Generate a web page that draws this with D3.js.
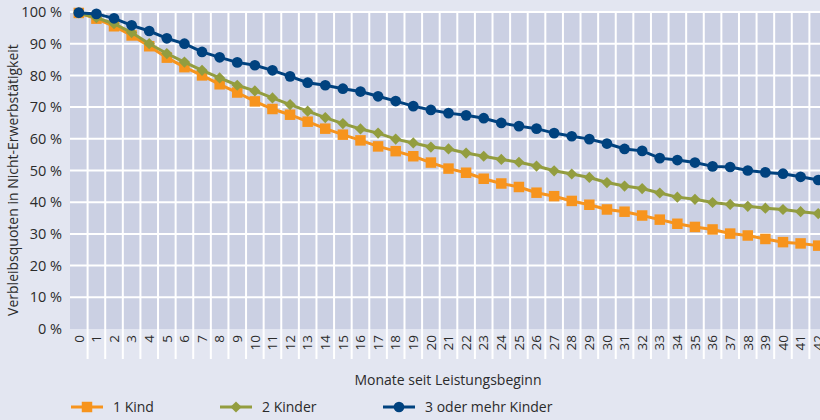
<!DOCTYPE html>
<html>
<head>
<meta charset="utf-8">
<script src="https://cdn.jsdelivr.net/npm/d3@7"></script>
<style>
  body { margin: 0; background: #e3e6f1; }
  svg { display: block; font-family: "Open Sans", sans-serif; }
</style>
</head>
<body>
<div class="canvas"></div>
<script>
// months since start of benefit
const months = d3.range(0, 43)
const yTicks = [0, 10, 20, 30, 40, 50, 60, 70, 80, 90, 100]

const seriesNames = ['1 Kind', '2 Kinder', '3 oder mehr Kinder']

const kind1 = [99.7, 97.9, 95.5, 92.6, 89.2, 85.6, 82.6, 80.0, 77.2, 74.6, 71.8, 69.4, 67.6, 65.4, 63.2,
    61.3, 59.5, 57.6, 56.1, 54.5, 52.5, 50.6, 49.3, 47.4, 45.9, 44.8, 43.0, 41.9, 40.4, 39.2,
    37.7, 37.0, 35.8, 34.5, 33.2, 32.2, 31.4, 30.1, 29.5, 28.4, 27.4, 27.0, 26.3]

const kinder2 = [99.7, 98.2, 96.3, 93.5, 90.0, 86.9, 84.2, 81.6, 79.2, 76.9, 75.1, 72.9, 70.8, 68.7, 66.7,
    64.8, 63.1, 61.8, 59.9, 58.7, 57.4, 56.8, 55.5, 54.5, 53.5, 52.6, 51.4, 49.9, 48.9, 47.8,
    46.2, 45.1, 44.3, 42.9, 41.6, 40.9, 39.9, 39.3, 38.7, 38.1, 37.7, 37.0, 36.4]

const kinder3 = [99.8, 99.4, 98.0, 95.8, 94.0, 91.7, 90.0, 87.4, 85.7, 84.1, 83.2, 81.6, 79.7, 77.7, 76.9,
    75.8, 74.9, 73.4, 71.9, 70.3, 69.1, 68.1, 67.4, 66.5, 65.0, 64.0, 63.2, 61.8, 60.8, 59.9,
    58.5, 56.8, 56.2, 53.9, 53.3, 52.5, 51.3, 51.1, 50.0, 49.4, 49.0, 48.0, 47.0]

const colors = ['#f7941d', '#939d3f', '#00427f']
const symbols = [d3.symbolSquare, d3.symbolDiamond2, d3.symbolCircle]
const symbolSizes = [110, 80, 90]

const dimensions = { width: 820, height: 420 }
const margin = { top: 12, right: -7, bottom: 91, left: 70 }
const graphWidth = dimensions.width - margin.left - margin.right
const graphHeight = dimensions.height - margin.top - margin.bottom

const svg = d3.select('.canvas')
    .append('svg')
    .attr('width', dimensions.width)
    .attr('height', dimensions.height)

const graph = svg.append('g')
    .attr('transform', `translate(${margin.left}, ${margin.top})`)

// scales
const x = d3.scaleBand()
    .domain(months)
    .range([0, graphWidth])

const y = d3.scaleLinear()
    .domain([0, 100])
    .range([graphHeight, 0])

// plot background
graph.append('rect')
    .attr('x', 0)
    .attr('y', 0)
    .attr('width', graphWidth)
    .attr('height', graphHeight)
    .attr('fill', '#cbd0e3')

// horizontal grid
graph.selectAll('.hgrid')
    .data(yTicks.filter(d => d > 0))
    .enter()
    .append('line')
    .attr('class', 'hgrid')
    .attr('x1', 0)
    .attr('x2', graphWidth)
    .attr('y1', d => y(d))
    .attr('y2', d => y(d))
    .attr('stroke', '#fff')
    .attr('stroke-width', 2)

// vertical grid (band edges), running down through the tick labels
graph.selectAll('.vgrid')
    .data(months.slice(1))
    .enter()
    .append('line')
    .attr('class', 'vgrid')
    .attr('x1', d => x(d))
    .attr('x2', d => x(d))
    .attr('y1', 0)
    .attr('y2', graphHeight + 30)
    .attr('stroke', '#fff')
    .attr('stroke-width', 2)

// axes
const yAxis = d3.axisLeft(y)
    .tickValues(yTicks)
    .tickSize(0)
    .tickPadding(8)
    .tickFormat(d => `${d} %`)

const yAxisGroup = graph.append('g').call(yAxis)
yAxisGroup.select('.domain').remove()
yAxisGroup.selectAll('text')
    .attr('font-size', 14.5)
    .attr('fill', '#2b2b2b')
    .attr('font-family', '"Open Sans", sans-serif')

const xAxis = d3.axisBottom(x).tickSize(0).tickPadding(0)
const xAxisGroup = graph.append('g')
    .attr('transform', `translate(0, ${graphHeight})`)
    .call(xAxis)
xAxisGroup.select('.domain').remove()
xAxisGroup.selectAll('text')
    .attr('transform', 'rotate(-90)')
    .attr('x', -6)
    .attr('y', 0)
    .attr('dy', '0.35em')
    .attr('text-anchor', 'end')
    .attr('font-size', 13.5)
    .attr('fill', '#2b2b2b')
    .attr('font-family', '"Open Sans", sans-serif')

// axis titles
svg.append('text')
    .attr('transform', `translate(18, 180) rotate(-90)`)
    .attr('text-anchor', 'middle')
    .attr('font-size', 14)
    .attr('fill', '#2b2b2b')
    .text('Verbleibsquoten in Nicht-Erwerbstätigkeit')

svg.append('text')
    .attr('x', 448)
    .attr('y', 385)
    .attr('text-anchor', 'middle')
    .attr('font-size', 14)
    .attr('fill', '#2b2b2b')
    .text('Monate seit Leistungsbeginn')

// lines + markers
const allSeries = [kind1, kinder2, kinder3]
const cx = d => x(d) + x.bandwidth() / 2

const line = d3.line()
    .x((d, i) => cx(months[i]))
    .y(d => y(d))

allSeries.forEach((values, s) => {
    graph.append('path')
        .datum(values)
        .attr('d', line)
        .attr('fill', 'none')
        .attr('stroke', colors[s])
        .attr('stroke-width', 3)

    graph.selectAll('.pt' + s)
        .data(values)
        .enter()
        .append('path')
        .attr('class', 'pt' + s)
        .attr('d', d3.symbol().type(symbols[s]).size(symbolSizes[s]))
        .attr('transform', (d, i) => `translate(${cx(months[i])}, ${y(d)})`)
        .attr('fill', colors[s])
})

// legend
const legendX = [71, 220, 383]
const legend = svg.selectAll('.legend')
    .data(seriesNames)
    .enter()
    .append('g')
    .attr('class', 'legend')
    .attr('transform', (d, i) => `translate(${legendX[i]}, 407)`)

legend.append('line')
    .attr('x1', 0)
    .attr('x2', 32)
    .attr('stroke', (d, i) => colors[i])
    .attr('stroke-width', 3)

legend.append('path')
    .attr('d', (d, i) => d3.symbol().type(symbols[i]).size(symbolSizes[i])())
    .attr('transform', 'translate(16, 0)')
    .attr('fill', (d, i) => colors[i])

legend.append('text')
    .attr('x', 42)
    .attr('dy', '0.35em')
    .attr('font-size', 14)
    .attr('fill', '#2b2b2b')
    .text(d => d)
</script>
</body>
</html>
